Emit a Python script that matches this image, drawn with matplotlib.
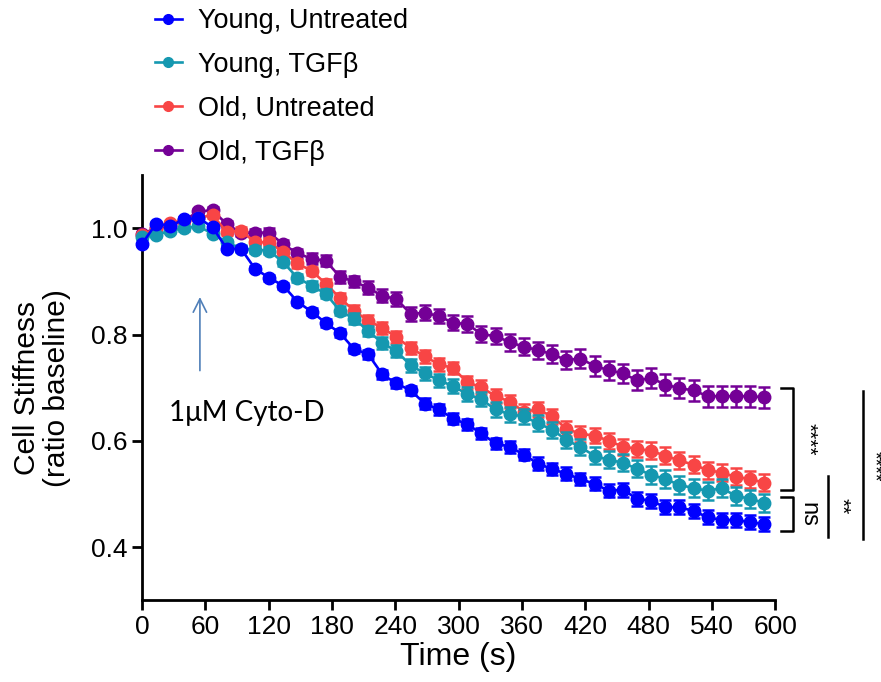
import matplotlib
matplotlib.use("Agg")
import matplotlib.pyplot as plt
from matplotlib.lines import Line2D

plt.rcParams['font.family'] = ['Liberation Sans', 'DejaVu Sans']

# time points (s)
time_s = [0.0, 13.4, 26.8, 40.2, 53.6, 67.0, 80.4, 93.8, 107.2, 120.6,
          134.0, 147.4, 160.8, 174.2, 187.6, 201.0, 214.4, 227.8, 241.2, 254.6,
          268.0, 281.4, 294.8, 308.2, 321.6, 335.0, 348.4, 361.8, 375.2, 388.6,
          402.0, 415.4, 428.8, 442.2, 455.6, 469.0, 482.4, 495.8, 509.2, 522.6,
          536.0, 549.4, 562.8, 576.2, 589.6]

young_untreated = [0.970, 1.009, 1.005, 1.017, 1.020, 1.002, 0.962, 0.962, 0.924, 0.907,
                   0.892, 0.862, 0.843, 0.822, 0.803, 0.773, 0.763, 0.725, 0.708, 0.695,
                   0.670, 0.659, 0.642, 0.631, 0.614, 0.595, 0.589, 0.574, 0.557, 0.547,
                   0.538, 0.528, 0.519, 0.506, 0.508, 0.491, 0.487, 0.475, 0.475, 0.468,
                   0.456, 0.451, 0.451, 0.447, 0.443]
young_tgfb = [0.983, 0.987, 0.996, 1.000, 1.004, 0.990, 0.974, 0.962, 0.960, 0.958,
              0.936, 0.907, 0.892, 0.877, 0.845, 0.830, 0.807, 0.784, 0.769, 0.742,
              0.727, 0.714, 0.703, 0.688, 0.678, 0.659, 0.650, 0.646, 0.633, 0.621,
              0.602, 0.588, 0.572, 0.564, 0.559, 0.547, 0.536, 0.528, 0.517, 0.511,
              0.506, 0.511, 0.496, 0.491, 0.483]
old_untreated = [0.987, 1.000, 1.010, 1.015, 1.020, 1.025, 0.993, 0.996, 0.974, 0.974,
                 0.955, 0.934, 0.920, 0.896, 0.869, 0.845, 0.826, 0.813, 0.795, 0.775,
                 0.759, 0.744, 0.737, 0.710, 0.701, 0.684, 0.674, 0.655, 0.659, 0.646,
                 0.623, 0.613, 0.610, 0.600, 0.589, 0.585, 0.581, 0.572, 0.563, 0.555,
                 0.545, 0.540, 0.532, 0.528, 0.521]
old_tgfb = [0.990, 1.000, 1.005, 1.015, 1.032, 1.034, 1.008, 0.992, 0.992, 0.992,
            0.970, 0.953, 0.943, 0.939, 0.909, 0.900, 0.888, 0.873, 0.867, 0.839,
            0.841, 0.835, 0.822, 0.820, 0.801, 0.797, 0.786, 0.777, 0.771, 0.763,
            0.752, 0.755, 0.741, 0.733, 0.727, 0.714, 0.718, 0.706, 0.699, 0.695,
            0.684, 0.684, 0.684, 0.684, 0.682]

# SEM
young_untreated_sem = [0.003, 0.003, 0.003, 0.004, 0.004, 0.004, 0.005, 0.005, 0.005, 0.006,
                       0.006, 0.007, 0.007, 0.007, 0.008, 0.008, 0.008, 0.009, 0.009, 0.009,
                       0.010, 0.010, 0.010, 0.010, 0.011, 0.011, 0.011, 0.011, 0.012, 0.012,
                       0.012, 0.012, 0.012, 0.012, 0.013, 0.013, 0.013, 0.013, 0.013, 0.013,
                       0.013, 0.013, 0.013, 0.013, 0.013]
young_tgfb_sem = [0.003, 0.003, 0.004, 0.004, 0.004, 0.005, 0.005, 0.006, 0.006, 0.007,
                  0.007, 0.008, 0.008, 0.009, 0.009, 0.010, 0.010, 0.011, 0.011, 0.012,
                  0.012, 0.012, 0.013, 0.013, 0.013, 0.014, 0.014, 0.014, 0.015, 0.015,
                  0.015, 0.015, 0.016, 0.016, 0.016, 0.016, 0.017, 0.017, 0.017, 0.017,
                  0.017, 0.017, 0.017, 0.017, 0.017]
old_untreated_sem = [0.003, 0.003, 0.004, 0.004, 0.004, 0.005, 0.005, 0.006, 0.006, 0.007,
                     0.007, 0.008, 0.008, 0.009, 0.009, 0.010, 0.010, 0.011, 0.011, 0.011,
                     0.012, 0.012, 0.012, 0.013, 0.013, 0.013, 0.013, 0.014, 0.014, 0.014,
                     0.014, 0.015, 0.015, 0.015, 0.015, 0.015, 0.016, 0.016, 0.016, 0.016,
                     0.016, 0.016, 0.016, 0.016, 0.016]
old_tgfb_sem = [0.004, 0.004, 0.005, 0.005, 0.005, 0.006, 0.006, 0.007, 0.007, 0.008,
                0.008, 0.009, 0.010, 0.010, 0.011, 0.011, 0.012, 0.012, 0.013, 0.013,
                0.014, 0.014, 0.014, 0.015, 0.015, 0.015, 0.016, 0.016, 0.016, 0.017,
                0.017, 0.017, 0.018, 0.018, 0.018, 0.019, 0.019, 0.019, 0.019, 0.020,
                0.020, 0.020, 0.020, 0.020, 0.020]

labels = ['Young, Untreated', 'Young, TGF\u03b2', 'Old, Untreated', 'Old, TGF\u03b2']
colors = ['#0000ff', '#1598b0', '#f84545', '#740096']

fig = plt.figure(figsize=(8.81, 6.82), dpi=100)
ax = fig.add_axes([0.161, 0.120, 0.719, 0.623])

series = [(young_untreated, young_untreated_sem), (young_tgfb, young_tgfb_sem),
          (old_untreated, old_untreated_sem), (old_tgfb, old_tgfb_sem)]

# draw purple first so blue ends on top
for i in [3, 2, 1, 0]:
    vals, sem = series[i]
    ax.errorbar(time_s, vals, yerr=sem, color=colors[i], marker='o', markersize=9,
                lw=1.9, elinewidth=1.8, capsize=4.5, capthick=1.8, clip_on=False,
                zorder=3 + (3 - i))

ax.set_xlim(0, 600)
ax.set_ylim(0.3, 1.1)
ax.set_xticks(range(0, 601, 60))
ax.set_yticks([0.4, 0.6, 0.8, 1.0])
ax.set_yticklabels(['0.4', '0.6', '0.8', '1.0'])
ax.tick_params(labelsize=19, width=2, length=7)
for s in ['top', 'right']:
    ax.spines[s].set_visible(False)
for s in ['left', 'bottom']:
    ax.spines[s].set_linewidth(2)

ax.set_xlabel('Time (s)', fontsize=23, labelpad=2)
ax.set_ylabel('Cell Stiffness\n(ratio baseline)', fontsize=21.5, labelpad=14, linespacing=1.1)

# Cyto-D arrow
ax.annotate('', xy=(55, 0.876), xytext=(55, 0.727),
            arrowprops=dict(arrowstyle='->', color='#4f7fb8', lw=1.2, mutation_scale=24))
ax.text(26, 0.653, '1\u03bcM Cyto-D', fontsize=20, va='center', ha='left',
        family=['Lato', 'DejaVu Sans'])

# significance marks
kw = dict(color='black', lw=1.8, clip_on=False)
ax.plot([605, 617, 617, 605], [0.699, 0.699, 0.508, 0.508], **kw)
ax.text(631, 0.603, '****', rotation=-90, fontsize=15, ha='center', va='center')
ax.plot([605, 617, 617, 605], [0.494, 0.494, 0.430, 0.430], **kw)
ax.text(631, 0.462, 'ns', rotation=-90, fontsize=17, ha='center', va='center')
ax.plot([650, 650], [0.534, 0.418], **kw)
ax.text(663, 0.477, '**', rotation=-90, fontsize=15, ha='center', va='center')
ax.plot([683, 683], [0.693, 0.415], **kw)
ax.text(693.5, 0.553, '****', rotation=-90, fontsize=14, ha='center', va='center')

# legend above the axes, plain line+marker handles
handles = [Line2D([], [], color=c, marker='o', markersize=7, lw=1.9) for c in colors]
fig.legend(handles, labels, loc='upper left',
           bbox_to_anchor=(0.157, 1.012), frameon=False, fontsize=19.5,
           handlelength=1.0, handletextpad=0.6, labelspacing=0.66, borderpad=0.1)

fig.savefig('out.png', dpi=100)
